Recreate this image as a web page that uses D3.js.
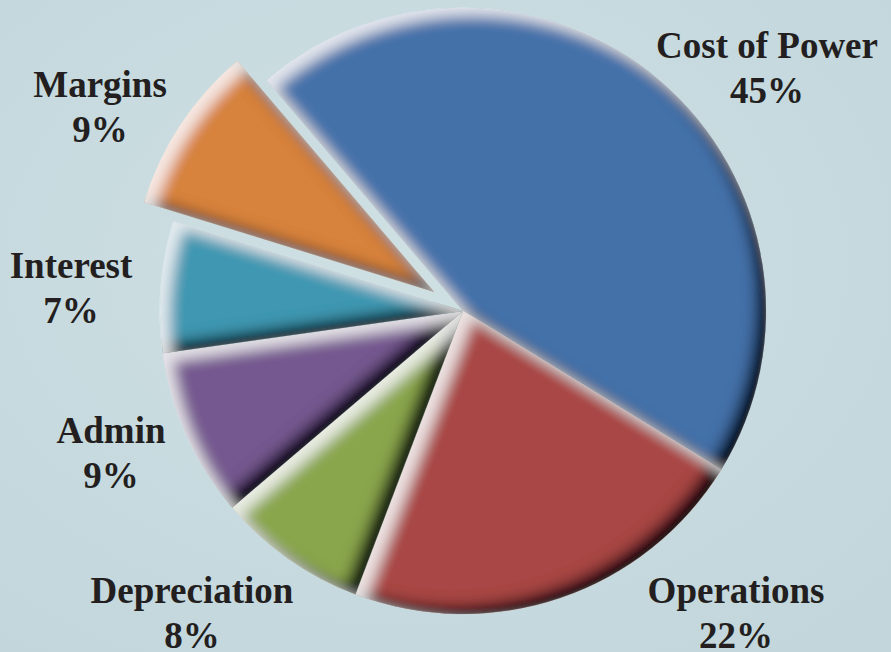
<!DOCTYPE html>
<html>
<head>
<meta charset="utf-8">
<style>
body {margin:0; background:#c8dadf;}
text {font-family:'Liberation Serif','DejaVu Serif',serif; font-weight:bold; fill:#231f20;}
</style>
<script src="https://d3js.org/d3.v7.min.js"></script>
</head>
<body>
<svg id="chart"></svg>
<script>
// data
var categories=['Cost of Power','Operations','Depreciation','Admin','Interest','Margins'];
var shares=[45,22,8,9,7,9];
var colors=['#4571a9','#a84744','#8aa64e','#74598f','#4197b1','#d7823c'];
var exploded=['Margins'];

// layout
var W=891,H=652,cx=463,cy=311,R=303,pull=35;
var labelPos={ // label centre x, first baseline y
  'Cost of Power':[767,58],'Operations':[736,603],'Depreciation':[192,603],
  'Admin':[111,443],'Interest':[71,278],'Margins':[100,97]};

var svg=d3.select('#chart').attr('width',W).attr('height',H);
var defs=svg.append('defs');

var bg=defs.append('radialGradient').attr('id','bg')
   .attr('cx','45%').attr('cy','40%').attr('r','75%');
bg.append('stop').attr('offset','0%').attr('stop-color','#cfe0e3');
bg.append('stop').attr('offset','100%').attr('stop-color','#c2d6dc');
svg.append('rect').attr('width',W).attr('height',H).attr('fill','url(#bg)');

// bevel: dark on lower-right edges, light on upper-left edges
var f=defs.append('filter').attr('id','bevel')
   .attr('x','-10%').attr('y','-10%').attr('width','120%').attr('height','120%');
f.append('feGaussianBlur').attr('in','SourceAlpha').attr('stdDeviation',7).attr('result','blur');
f.append('feOffset').attr('in','blur').attr('dx',-10).attr('dy',-8).attr('result','up');
f.append('feComposite').attr('in','SourceAlpha').attr('in2','up').attr('operator','out').attr('result','dm');
f.append('feFlood').attr('flood-color','#05070d').attr('flood-opacity',1).attr('result','blk');
f.append('feComposite').attr('in','blk').attr('in2','dm').attr('operator','in').attr('result','dark');
f.append('feOffset').attr('in','blur').attr('dx',10).attr('dy',8).attr('result','dn');
f.append('feComposite').attr('in','SourceAlpha').attr('in2','dn').attr('operator','out').attr('result','lm');
f.append('feFlood').attr('flood-color','#fff').attr('flood-opacity',0.75).attr('result','wht');
f.append('feComposite').attr('in','wht').attr('in2','lm').attr('operator','in').attr('result','light');
var mg=f.append('feMerge');
mg.append('feMergeNode').attr('in','SourceGraphic');
mg.append('feMergeNode').attr('in','dark');
mg.append('feMergeNode').attr('in','light');

var data=categories.map(function(c,i){return {name:c,value:shares[i],color:colors[i]};});
var pie=d3.pie().sort(null).value(function(d){return d.value;})
   .startAngle(-40.4*Math.PI/180).endAngle(-40.4*Math.PI/180+2*Math.PI);
var arc=d3.arc().innerRadius(0).outerRadius(R);

var g=svg.append('g').attr('transform','translate('+cx+','+cy+')');
g.selectAll('path').data(pie(data)).enter().append('path')
  .attr('d',arc)
  .attr('fill',function(d){return d.data.color;})
  .attr('stroke','rgba(255,255,255,0.45)').attr('stroke-width',0.7)
  .attr('filter','url(#bevel)')
  .attr('transform',function(d){
     if(exploded.indexOf(d.data.name)<0) return null;
     var a=(d.startAngle+d.endAngle)/2;
     return 'translate('+(pull*Math.sin(a))+','+(-pull*Math.cos(a))+')';});

var lab=svg.selectAll('text.lab').data(data).enter().append('text')
  .attr('class','lab').attr('text-anchor','middle').style('font-size','37px')
  .attr('transform',function(d){var p=labelPos[d.name];return 'translate('+p[0]+','+p[1]+')';});
lab.append('tspan').attr('x',0).attr('y',0).text(function(d){return d.name;});
lab.append('tspan').attr('x',0).attr('y',45).text(function(d){return d.value+'%';});
</script>
</body>
</html>
